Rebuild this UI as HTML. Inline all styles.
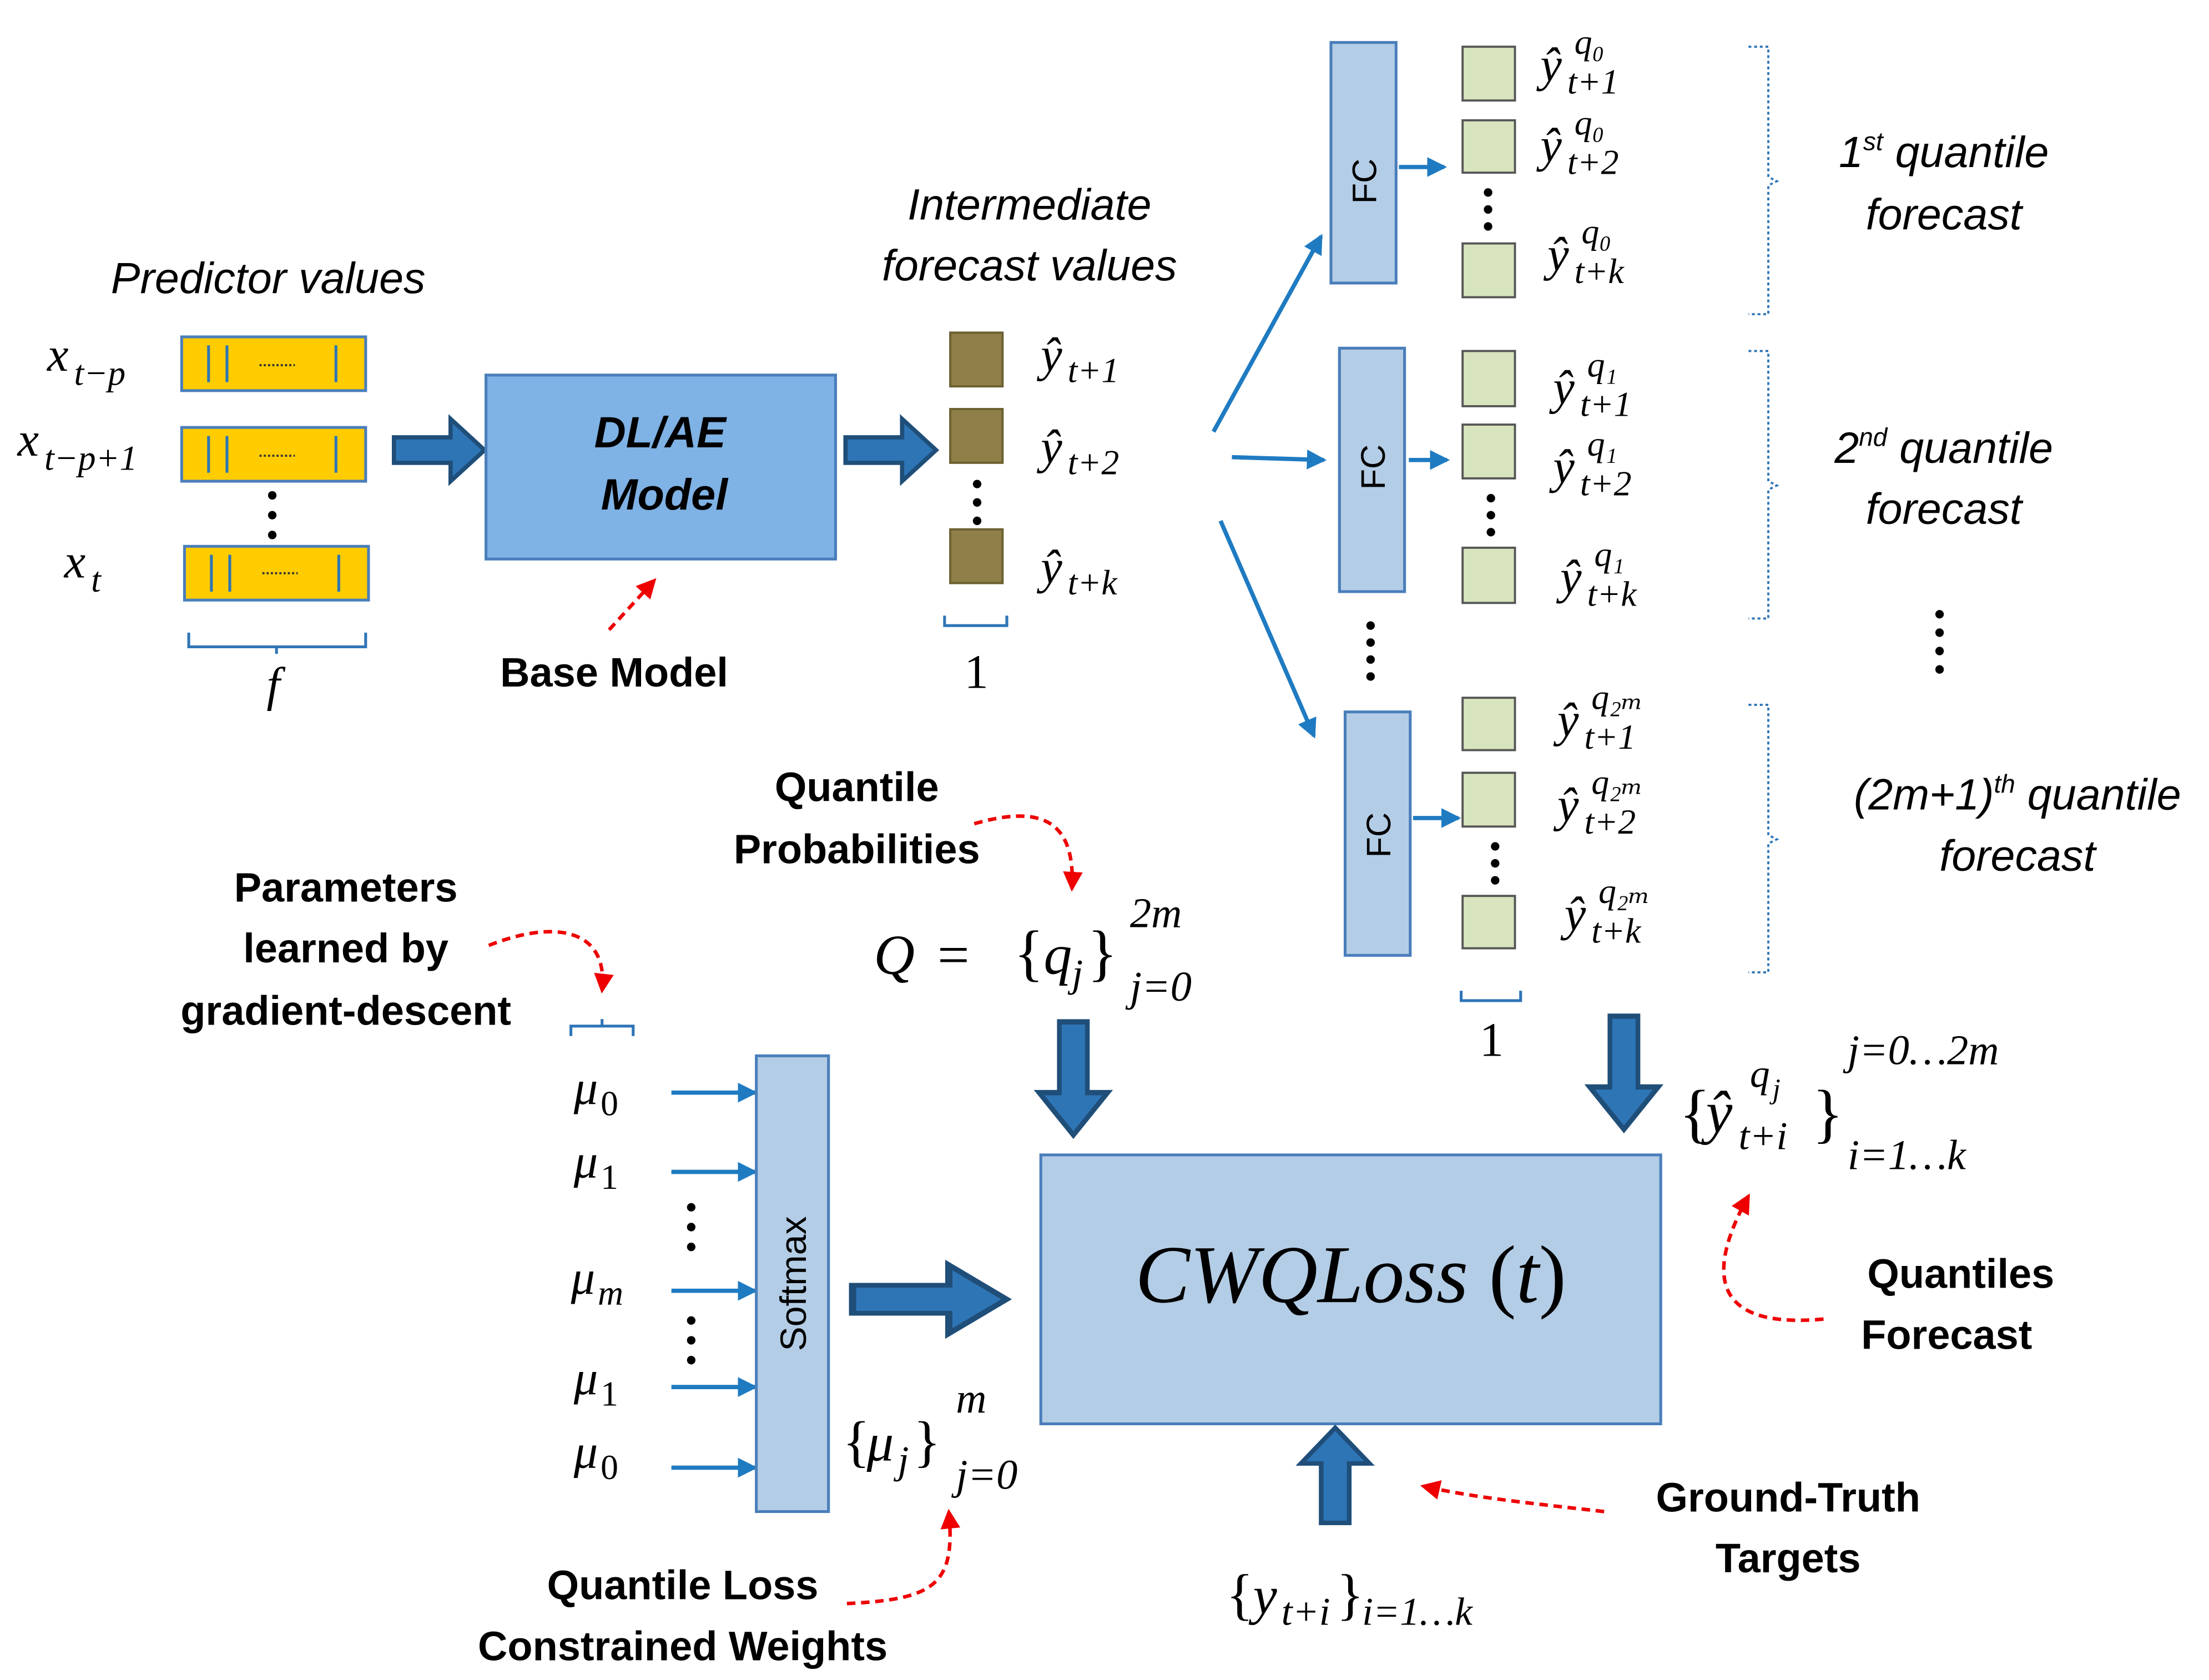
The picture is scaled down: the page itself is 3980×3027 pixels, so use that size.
<!DOCTYPE html>
<html><head><meta charset="utf-8"><style>
html,body{margin:0;padding:0;background:#fff}
svg{display:block}
.it{font-family:"Liberation Sans",sans-serif;font-style:italic;font-size:31px}
.b{font-family:"Liberation Sans",sans-serif;font-weight:bold;font-size:29px}
.m{font-family:"Liberation Serif","DejaVu Serif",serif;font-style:italic;font-size:34px}
.s{font-family:"Liberation Serif","DejaVu Serif",serif;font-style:italic;font-size:25px}
.fc{font-family:"Liberation Sans",sans-serif;font-size:24px}
</style></head><body>
<svg width="3980" height="3027" viewBox="0 0 1560 1187" xmlns="http://www.w3.org/2000/svg">
<defs>
<marker id="ab" markerWidth="14" markerHeight="14" refX="12" refY="7" orient="auto" markerUnits="userSpaceOnUse"><path d="M0,0 L14,7 L0,14 z" fill="#1f7bc1"/></marker>
<marker id="ar" markerWidth="14" markerHeight="14" refX="12" refY="7" orient="auto" markerUnits="userSpaceOnUse"><path d="M0,0 L14,7 L0,14 z" fill="#e00"/></marker>
<g id="rarrow"><path d="M0,-9 L40,-9 L40,-22 L64,0 L40,22 L40,9 L0,9 z" fill="#2e75b6" stroke="#1f4e79" stroke-width="3"/></g>
</defs>
<!-- predictor -->
<text class="it" x="78" y="207">Predictor values</text>
<text class="m" x="33" y="262">x</text><text class="s" x="52" y="272">t−p</text>
<text class="m" x="12" y="322">x</text><text class="s" x="31" y="332">t−p+1</text>
<text class="m" x="45" y="408">x</text><text class="s" x="64" y="418">t</text>
<g stroke="#2e75b6" stroke-width="2">
<rect x="128" y="238" width="130" height="38" fill="#ffcc00" stroke="#4a7ebb"/>
<rect x="128" y="302" width="130" height="38" fill="#ffcc00" stroke="#4a7ebb"/>
<rect x="130" y="386" width="130" height="38" fill="#ffcc00" stroke="#4a7ebb"/>
<path d="M147,244v26M160,244v26M237,244v26M147,308v26M160,308v26M237,308v26M149,392v26M162,392v26M239,392v26"/>
</g>
<g stroke="#333" stroke-width="1.5" stroke-dasharray="1.5 1.5"><path d="M183,258h25M183,322h25M185,405h25"/></g>
<g fill="#000"><circle cx="192" cy="350" r="3"/><circle cx="192" cy="364" r="3"/><circle cx="192" cy="378" r="3"/></g>
<path d="M133,447v10h125v-10M195,457v5" fill="none" stroke="#2e75b6" stroke-width="2"/>
<text class="m" x="188" y="495">f</text>
<use href="#rarrow" x="278" y="318"/>
<rect x="343" y="265" width="247" height="130" fill="#7fb2e5" stroke="#4a7ebb" stroke-width="2"/>
<text class="b" x="466" y="316" text-anchor="middle" style="font-style:italic;font-size:31px">DL/AE</text>
<text class="b" x="469" y="360" text-anchor="middle" style="font-style:italic;font-size:31px">Model</text>
<path d="M430,445 L462,410" stroke="#e00" stroke-width="2.5" stroke-dasharray="6 4" marker-end="url(#ar)"/>
<text class="b" x="353" y="485">Base Model</text>
<use href="#rarrow" x="597" y="318"/>
<text class="it" x="727" y="155" text-anchor="middle">Intermediate</text>
<text class="it" x="727" y="198" text-anchor="middle">forecast values</text>
<g fill="#8f7f48" stroke="#6b5f30" stroke-width="1.5">
<rect x="671" y="235" width="37" height="38"/><rect x="671" y="289" width="37" height="38"/><rect x="671" y="374" width="37" height="38"/></g>
<g fill="#000"><circle cx="690" cy="342" r="3"/><circle cx="690" cy="355" r="3"/><circle cx="690" cy="368" r="3"/></g>
<text class="m" x="735" y="262">ŷ</text><text class="s" x="754" y="270">t+1</text>
<text class="m" x="735" y="327">ŷ</text><text class="s" x="754" y="335">t+2</text>
<text class="m" x="735" y="412">ŷ</text><text class="s" x="754" y="420">t+k</text>
<path d="M667,435v7h44v-7" fill="none" stroke="#2e75b6" stroke-width="2"/>
<text class="m" x="681" y="486" style="font-style:normal">1</text>
<g stroke="#1f7bc1" stroke-width="3" marker-end="url(#ab)">
<path d="M857,305 L933,167"/><path d="M870,323 L935,325"/><path d="M862,368 L928,520"/></g>
<!-- FC -->
<g fill="#b4cde6" stroke="#4a7ebb" stroke-width="2">
<rect x="940" y="30" width="46" height="170"/><rect x="946" y="246" width="46" height="172"/><rect x="950" y="503" width="46" height="172"/></g>
<text class="fc" transform="translate(972,128) rotate(-90)" text-anchor="middle">FC</text>
<text class="fc" transform="translate(978,330) rotate(-90)" text-anchor="middle">FC</text>
<text class="fc" transform="translate(982,590) rotate(-90)" text-anchor="middle">FC</text>
<g stroke="#1f7bc1" stroke-width="3" marker-end="url(#ab)">
<path d="M988,118 L1020,118"/><path d="M995,325 L1022,325"/><path d="M998,578 L1030,578"/></g>
<g fill="#d7e4bd" stroke="#555" stroke-width="1.5">
<rect x="1033" y="33" width="37" height="38"/><rect x="1033" y="85" width="37" height="37"/><rect x="1033" y="172" width="37" height="38"/>
<rect x="1033" y="248" width="37" height="39"/><rect x="1033" y="300" width="37" height="38"/><rect x="1033" y="387" width="37" height="39"/>
<rect x="1033" y="493" width="37" height="37"/><rect x="1033" y="546" width="37" height="38"/><rect x="1033" y="633" width="37" height="37"/></g>
<g fill="#000"><circle cx="1051" cy="136" r="3"/><circle cx="1051" cy="148" r="3"/><circle cx="1051" cy="160" r="3"/>
<circle cx="1053" cy="352" r="3"/><circle cx="1053" cy="364" r="3"/><circle cx="1053" cy="376" r="3"/>
<circle cx="1056" cy="598" r="3"/><circle cx="1056" cy="610" r="3"/><circle cx="1056" cy="622" r="3"/>
<circle cx="968" cy="442" r="3"/><circle cx="968" cy="454" r="3"/><circle cx="968" cy="466" r="3"/><circle cx="968" cy="478" r="3"/>
<circle cx="1370" cy="434" r="3"/><circle cx="1370" cy="447" r="3"/><circle cx="1370" cy="460" r="3"/><circle cx="1370" cy="473" r="3"/></g>
<!-- yhat quantile labels -->
<g>
<text class="m" x="1088" y="57">ŷ</text><text class="s" x="1107" y="66">t+1</text><text class="s" x="1112" y="38">q₀</text>
<text class="m" x="1088" y="114">ŷ</text><text class="s" x="1107" y="123">t+2</text><text class="s" x="1112" y="95">q₀</text>
<text class="m" x="1093" y="191">ŷ</text><text class="s" x="1112" y="200">t+k</text><text class="s" x="1117" y="172">q₀</text>
<text class="m" x="1097" y="285">ŷ</text><text class="s" x="1116" y="294">t+1</text><text class="s" x="1121" y="266">q₁</text>
<text class="m" x="1097" y="341">ŷ</text><text class="s" x="1116" y="350">t+2</text><text class="s" x="1121" y="322">q₁</text>
<text class="m" x="1102" y="419">ŷ</text><text class="s" x="1121" y="428">t+k</text><text class="s" x="1126" y="400">q₁</text>
<text class="m" x="1100" y="520">ŷ</text><text class="s" x="1119" y="529">t+1</text><text class="s" x="1124" y="501">q₂ₘ</text>
<text class="m" x="1100" y="580">ŷ</text><text class="s" x="1119" y="589">t+2</text><text class="s" x="1124" y="561">q₂ₘ</text>
<text class="m" x="1105" y="657">ŷ</text><text class="s" x="1124" y="666">t+k</text><text class="s" x="1129" y="638">q₂ₘ</text>
</g>
<g fill="none" stroke="#2e75b6" stroke-width="1.5" stroke-dasharray="2 2">
<path d="M1235,33 h14 v92 l6,3 l-6,3 v91 h-14"/>
<path d="M1235,248 h14 v92 l6,3 l-6,3 v91 h-14"/>
<path d="M1235,498 h14 v92 l6,3 l-6,3 v91 h-14"/></g>
<text class="it" x="1373" y="118" text-anchor="middle">1<tspan font-size="18" dy="-12">st</tspan><tspan dy="12"> quantile</tspan></text>
<text class="it" x="1373" y="162" text-anchor="middle">forecast</text>
<text class="it" x="1373" y="327" text-anchor="middle">2<tspan font-size="18" dy="-12">nd</tspan><tspan dy="12"> quantile</tspan></text>
<text class="it" x="1373" y="370" text-anchor="middle">forecast</text>
<text class="it" x="1425" y="572" text-anchor="middle">(2m+1)<tspan font-size="18" dy="-12">th</tspan><tspan dy="12"> quantile</tspan></text>
<text class="it" x="1425" y="615" text-anchor="middle">forecast</text>
<path d="M1032,700v7h42v-7" fill="none" stroke="#2e75b6" stroke-width="2"/>
<text class="m" x="1045" y="746" style="font-style:normal">1</text>
<!-- bottom -->
<text class="b" x="605" y="566" text-anchor="middle">Quantile</text>
<text class="b" x="605" y="610" text-anchor="middle">Probabilities</text>
<path d="M688,582 C730,570 760,575 757,628" fill="none" stroke="#e00" stroke-width="2.5" stroke-dasharray="6 4" marker-end="url(#ar)"/>
<text class="m" x="617" y="688" style="font-size:40px">Q</text>
<text class="m" x="662" y="688" style="font-size:40px;font-style:normal">=</text>
<text class="m" x="716" y="688" style="font-size:44px;font-style:normal">{</text>
<text class="m" x="737" y="688" style="font-size:40px">q</text>
<text class="s" x="757" y="697" style="font-size:28px">j</text>
<text class="m" x="768" y="688" style="font-size:44px;font-style:normal">}</text>
<text class="s" x="798" y="655" style="font-size:30px">2m</text>
<text class="s" x="798" y="707" style="font-size:30px">j=0</text>
<use href="#rarrow" transform="translate(758,722) rotate(90) scale(1.25,1.1)"/>
<use href="#rarrow" transform="translate(1147,718) rotate(90) scale(1.25,1.1)"/>
<text class="b" x="244" y="637" text-anchor="middle">Parameters</text>
<text class="b" x="244" y="680" text-anchor="middle">learned by</text>
<text class="b" x="244" y="724" text-anchor="middle">gradient-descent</text>
<path d="M345,668 C390,650 430,655 425,700" fill="none" stroke="#e00" stroke-width="2.5" stroke-dasharray="6 4" marker-end="url(#ar)"/>
<path d="M403,732v-7h44v7M425,725v-5" fill="none" stroke="#2e75b6" stroke-width="2"/>
<text class="m" x="405" y="780">μ</text><text class="s" x="424" y="788" style="font-style:normal">0</text>
<text class="m" x="405" y="832">μ</text><text class="s" x="424" y="840" style="font-style:normal">1</text>
<text class="m" x="403" y="914">μ</text><text class="s" x="422" y="922">m</text>
<text class="m" x="405" y="985">μ</text><text class="s" x="424" y="993" style="font-style:normal">1</text>
<text class="m" x="405" y="1037">μ</text><text class="s" x="424" y="1045" style="font-style:normal">0</text>
<g fill="#000"><circle cx="488" cy="853" r="3"/><circle cx="488" cy="867" r="3"/><circle cx="488" cy="881" r="3"/>
<circle cx="488" cy="933" r="3"/><circle cx="488" cy="947" r="3"/><circle cx="488" cy="961" r="3"/></g>
<g stroke="#1f7bc1" stroke-width="3" marker-end="url(#ab)">
<path d="M474,772H533"/><path d="M474,828H533"/><path d="M474,912H533"/><path d="M474,980H533"/><path d="M474,1037H533"/></g>
<rect x="534" y="746" width="51" height="322" fill="#b4cde6" stroke="#4a7ebb" stroke-width="2"/>
<text class="fc" style="font-size:26px" transform="translate(569,907) rotate(-90)" text-anchor="middle">Softmax</text>
<text class="m" x="595" y="1032" style="font-size:40px;font-style:normal">{</text>
<text class="m" x="612" y="1032" style="font-size:38px">μ</text>
<text class="s" x="634" y="1041" style="font-size:28px">j</text>
<text class="m" x="645" y="1032" style="font-size:40px;font-style:normal">}</text>
<text class="s" x="675" y="998" style="font-size:30px">m</text>
<text class="s" x="675" y="1052" style="font-size:30px">j=0</text>
<use href="#rarrow" transform="translate(602,918) scale(1.7,1.1)"/>
<rect x="735" y="816" width="438" height="190" fill="#b4cde6" stroke="#4a7ebb" stroke-width="2"/>
<text class="m" x="954" y="920" text-anchor="middle" style="font-size:58px">CWQLoss <tspan style="font-style:normal">(</tspan>t<tspan style="font-style:normal">)</tspan></text>
<text class="m" x="1186" y="802" style="font-size:46px;font-style:normal">{</text>
<text class="m" x="1205" y="800" style="font-size:42px">ŷ</text>
<text class="s" x="1236" y="768" style="font-size:28px">q</text>
<text class="s" x="1252" y="776" style="font-size:20px">j</text>
<text class="s" x="1228" y="812" style="font-size:28px">t+i</text>
<text class="m" x="1280" y="802" style="font-size:46px;font-style:normal">}</text>
<text class="s" x="1305" y="752" style="font-size:30px">j=0…2m</text>
<text class="s" x="1305" y="826" style="font-size:30px">i=1…k</text>
<text class="b" x="1385" y="910" text-anchor="middle">Quantiles</text>
<text class="b" x="1375" y="953" text-anchor="middle">Forecast</text>
<path d="M1288,932 C1200,940 1210,890 1235,845" fill="none" stroke="#e00" stroke-width="2.5" stroke-dasharray="6 4" marker-end="url(#ar)"/>
<use href="#rarrow" transform="translate(943,1076) rotate(-90) scale(1.05,1.1)"/>
<path d="M1133,1068 C1080,1062 1040,1058 1005,1050" fill="none" stroke="#e00" stroke-width="2.5" stroke-dasharray="6 4" marker-end="url(#ar)"/>
<text class="b" x="1263" y="1068" text-anchor="middle">Ground-Truth</text>
<text class="b" x="1263" y="1111" text-anchor="middle">Targets</text>
<text class="m" x="866" y="1140" style="font-size:40px;font-style:normal">{</text>
<text class="m" x="885" y="1140" style="font-size:38px">y</text>
<text class="s" x="905" y="1148" style="font-size:28px">t+i</text>
<text class="m" x="944" y="1140" style="font-size:40px;font-style:normal">}</text>
<text class="s" x="962" y="1148" style="font-size:28px">i=1…k</text>
<text class="b" x="482" y="1130" text-anchor="middle">Quantile Loss</text>
<text class="b" x="482" y="1173" text-anchor="middle">Constrained Weights</text>
<path d="M598,1133 C660,1130 675,1120 670,1068" fill="none" stroke="#e00" stroke-width="2.5" stroke-dasharray="6 4" marker-end="url(#ar)"/>
</svg>
</body></html>
